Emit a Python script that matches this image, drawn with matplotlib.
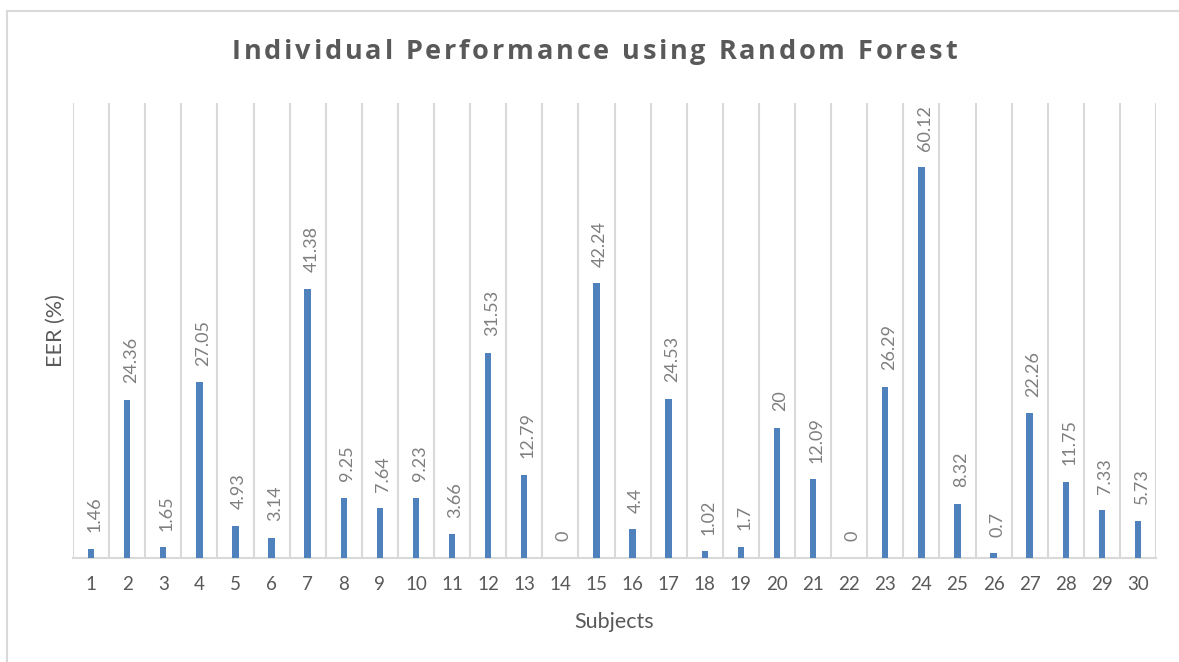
import matplotlib
matplotlib.use("Agg")
import matplotlib.pyplot as plt
from matplotlib.patches import Rectangle
from matplotlib.font_manager import FontProperties

subjects = [str(i) for i in range(1, 31)]
eer = [1.46, 24.36, 1.65, 27.05, 4.93, 3.14, 41.38, 9.25, 7.64, 9.23,
       3.66, 31.53, 12.79, 0, 42.24, 4.4, 24.53, 1.02, 1.7, 20,
       12.09, 0, 26.29, 60.12, 8.32, 0.7, 22.26, 11.75, 7.33, 5.73]
labels = ["1.46", "24.36", "1.65", "27.05", "4.93", "3.14", "41.38", "9.25", "7.64", "9.23",
          "3.66", "31.53", "12.79", "0", "42.24", "4.4", "24.53", "1.02", "1.7", "20",
          "12.09", "0", "26.29", "60.12", "8.32", "0.7", "22.26", "11.75", "7.33", "5.73"]
title = "Individual Performance using Random Forest"

W, H = 1179, 662
fig = plt.figure(figsize=(W / 100, H / 100), dpi=100)
fig.patch.set_facecolor("white")

# outer chart border (top and left visible)
fig.patches.append(Rectangle((7 / W, -0.05), 1.2, (H - 11) / H + 0.05,
                             transform=fig.transFigure, fill=False,
                             edgecolor="#d9d9d9", linewidth=1.5))

ax = fig.add_axes([73 / W, (H - 558) / H, (1156 - 73) / W, (558 - 103) / H])
x = list(range(len(subjects)))
ax.bar(x, eer, width=0.18, color="#4F81BD", zorder=3)
ax.set_xlim(-0.5, len(subjects) - 0.5)
ax.set_ylim(0, 70)

for xi in [i - 0.5 for i in range(len(subjects) + 1)]:
    ax.axvline(xi, color="#d9d9d9", linewidth=1.5, zorder=1)

for s in ["top", "right", "left"]:
    ax.spines[s].set_visible(False)
ax.spines["bottom"].set_color("#d9d9d9")
ax.spines["bottom"].set_linewidth(1.5)
ax.set_yticks([])
ax.set_xticks(x)
ax.set_xticklabels(subjects, fontsize=13.5, color="#595959", family="Lato")
ax.tick_params(axis="x", length=0, pad=13)

for xi, v, lab in zip(x, eer, labels):
    ax.annotate(lab, (xi + 0.1, v), xytext=(0, 12), textcoords="offset points",
                rotation=90, ha="center", va="bottom", fontsize=13,
                color="#7f7f7f", family="Lato")

fig.text(56 / W, 1 - 331 / H, "EER (%)", rotation=90, ha="center", va="center",
         fontsize=15.5, color="#595959", family="Lato")
fig.text(614 / W, 1 - 622 / H, "Subjects", ha="center", va="center",
         fontsize=15.5, color="#595959", family="Lato")

# title with letter spacing
fp = FontProperties(family="Open Sans", weight="bold", size=19.5)
renderer = fig.canvas.get_renderer()
widths = []
for ch in title:
    if ch == " ":
        w, _, _ = renderer.get_text_width_height_descent("a a", fp, ismath=False)
        w2, _, _ = renderer.get_text_width_height_descent("aa", fp, ismath=False)
        widths.append(w - w2)
    else:
        w, _, _ = renderer.get_text_width_height_descent(ch, fp, ismath=False)
        widths.append(w)
target = 957 - 232
spacing = (target - sum(widths)) / (len(title) - 1)
xpos = 232.0
for ch, w in zip(title, widths):
    if ch != " ":
        fig.text(xpos / W, 1 - 52 / H, ch, ha="left", va="center",
                 fontproperties=fp, color="#595959")
    xpos += w + spacing

fig.savefig("out.png", dpi=100, facecolor="white")
